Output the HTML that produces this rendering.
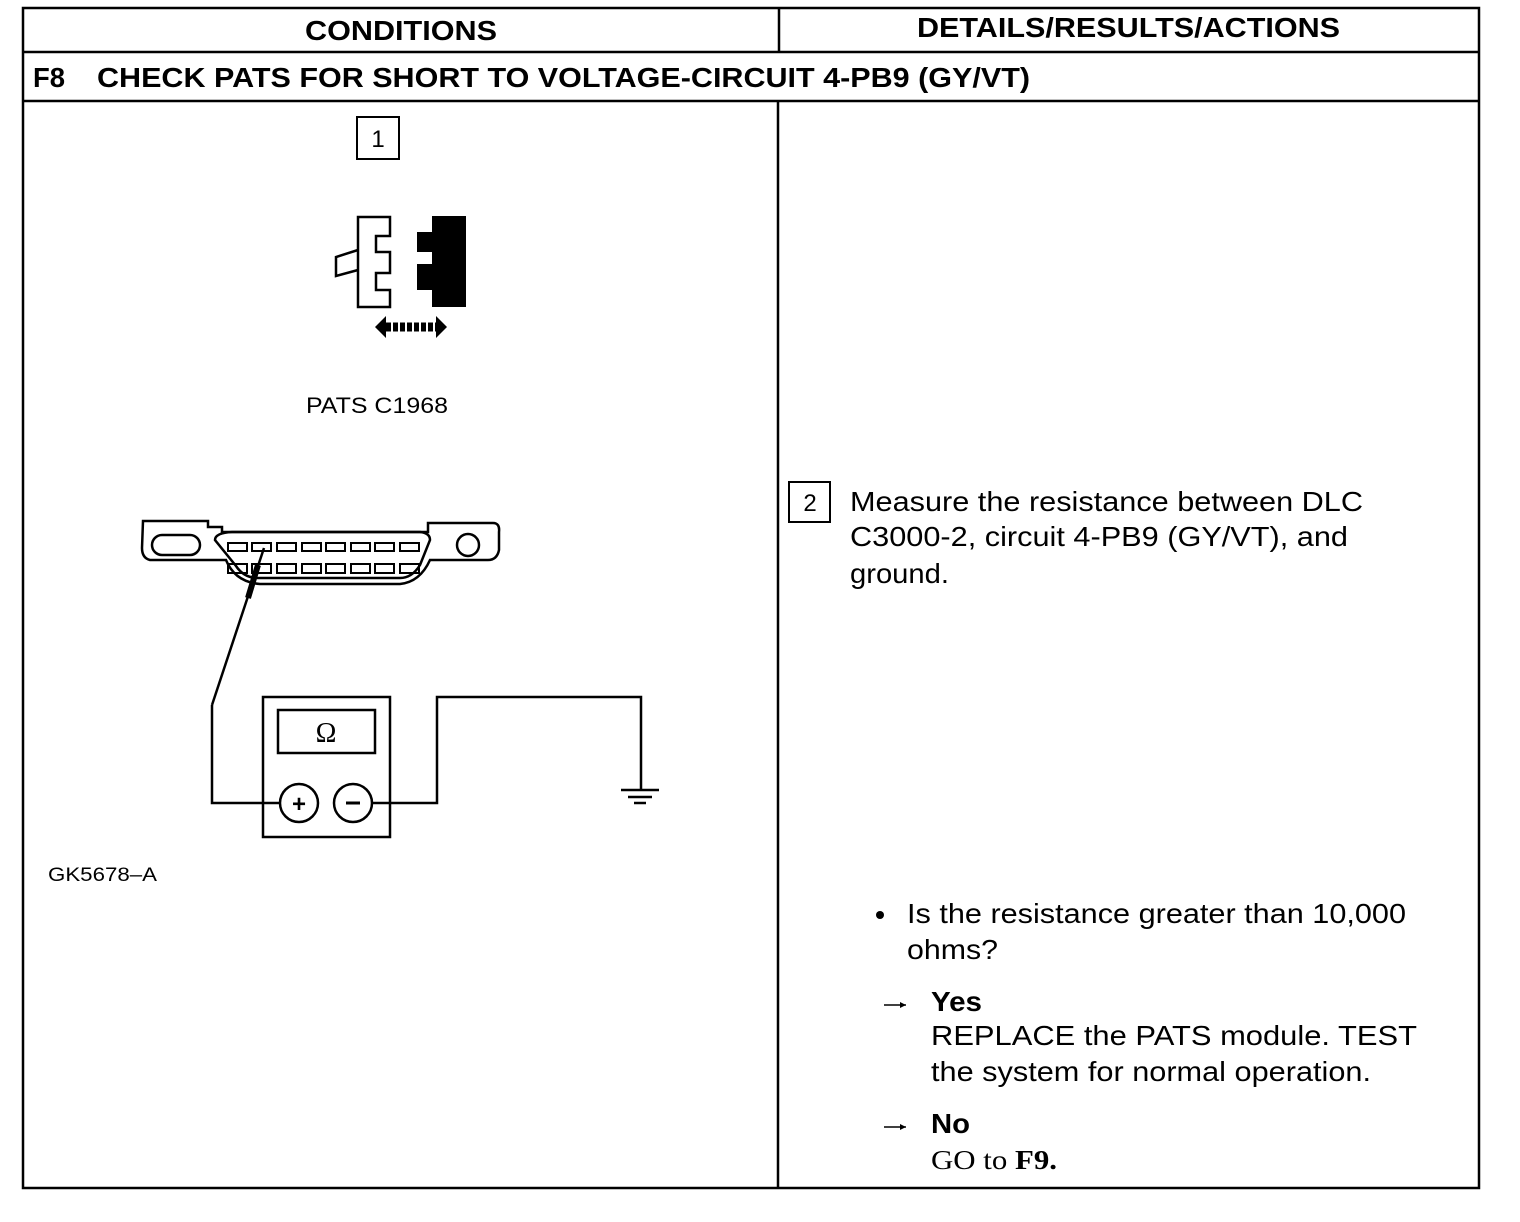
<!DOCTYPE html>
<html><head><style>
body{margin:0;background:#fff;width:1520px;height:1222px;overflow:hidden}
svg{display:block}
text{font-family:"Liberation Sans",Arial,sans-serif;fill:#000}
</style></head><body>
<svg width="1520" height="1222" viewBox="0 0 1520 1222" xmlns="http://www.w3.org/2000/svg">
<g stroke="#000" stroke-width="2.5" fill="none">
<rect x="23" y="8" width="1456" height="1180"/>
<line x1="23" y1="52" x2="1479" y2="52"/>
<line x1="23" y1="101" x2="1479" y2="101"/>
<line x1="779" y1="8" x2="779" y2="52"/>
<line x1="778" y1="101" x2="778" y2="1188"/>
</g>
<text x="305" y="40" font-size="28" font-weight="bold" textLength="192" lengthAdjust="spacingAndGlyphs">CONDITIONS</text>
<text x="917" y="37" font-size="28" font-weight="bold" textLength="423" lengthAdjust="spacingAndGlyphs">DETAILS/RESULTS/ACTIONS</text>
<text x="33" y="87" font-size="28" font-weight="bold" textLength="32" lengthAdjust="spacingAndGlyphs">F8</text>
<text x="97" y="87" font-size="28" font-weight="bold" textLength="933" lengthAdjust="spacingAndGlyphs">CHECK PATS FOR SHORT TO VOLTAGE-CIRCUIT 4-PB9 (GY/VT)</text>
<rect x="357" y="117" width="42" height="42" fill="none" stroke="#000" stroke-width="2"/>
<text x="378" y="147" font-size="24" text-anchor="middle">1</text>
<path d="M358 217 H390 V236 H376 V252 H390 V273 H376 V290 H390 V307 H358 Z" fill="#fff" stroke="#000" stroke-width="2.5"/>
<path d="M358 250 L336 257 V276 L358 270" fill="none" stroke="#000" stroke-width="2.5"/>
<path d="M432 216 H466 V307 H432 V290 H417 V264 H432 V252 H417 V232 H432 Z" fill="#000"/>
<path d="M375 327 L386 316 V338 Z M447 327 L436 316 V338 Z" fill="#000"/>
<line x1="386" y1="327" x2="436" y2="327" stroke="#000" stroke-width="9" stroke-dasharray="5 2"/>
<text x="306" y="413" font-size="22" textLength="142" lengthAdjust="spacingAndGlyphs">PATS C1968</text>
<g fill="none" stroke="#000" stroke-width="2.5">
<path d="M143 521 H208 V527 H222 V532 H428 V523 H493 Q500 523 499 532 V550 Q497 560 488 560 H443 L430 560 Q420 582 400 584 H260 Q235 582 226 560 H150 Q142 558 142 548 Z"/>
<path d="M215 540 Q215 533 232 532 H420 Q430 533 430 540 L420 565 Q412 578 400 578 H258 Q244 578 236 566 Z"/>
<rect x="152" y="535" width="48" height="20" rx="10"/>
<circle cx="468" cy="545" r="11"/>
</g>
<g fill="none" stroke="#000" stroke-width="2">
<rect x="228" y="543" width="19" height="8"/><rect x="252" y="543" width="19" height="8"/><rect x="277" y="543" width="19" height="8"/><rect x="302" y="543" width="19" height="8"/><rect x="326" y="543" width="19" height="8"/><rect x="351" y="543" width="19" height="8"/><rect x="375" y="543" width="19" height="8"/><rect x="400" y="543" width="19" height="8"/>
<rect x="228" y="564" width="19" height="9"/><rect x="252" y="564" width="19" height="9"/><rect x="277" y="564" width="19" height="9"/><rect x="302" y="564" width="19" height="9"/><rect x="326" y="564" width="19" height="9"/><rect x="351" y="564" width="19" height="9"/><rect x="375" y="564" width="19" height="9"/><rect x="400" y="564" width="19" height="9"/>
</g>
<line x1="264" y1="548" x2="212" y2="705" stroke="#000" stroke-width="2.5"/>
<line x1="258" y1="565" x2="248" y2="598" stroke="#000" stroke-width="6"/>
<g fill="none" stroke="#000" stroke-width="2.5">
<rect x="263" y="697" width="127" height="140"/>
<rect x="278" y="710" width="97" height="43"/>
<circle cx="299" cy="803" r="19"/>
<circle cx="353" cy="803" r="19"/>
<polyline points="212,705 212,803 280,803"/>
<polyline points="372,803 437,803 437,697 641,697 641,790"/>
<line x1="621" y1="790" x2="659" y2="790"/>
<line x1="628" y1="797" x2="652" y2="797"/>
<line x1="634" y1="803" x2="646" y2="803"/>
</g>
<text x="326" y="742" font-size="28" text-anchor="middle" style="font-family:'Liberation Serif',serif">Ω</text>
<text x="299" y="812" font-size="24" font-weight="bold" text-anchor="middle">+</text>
<line x1="346" y1="803" x2="360" y2="803" stroke="#000" stroke-width="3"/>
<text x="48" y="881" font-size="19" textLength="109" lengthAdjust="spacingAndGlyphs">GK5678–A</text>
<rect x="789" y="482" width="41" height="40" fill="none" stroke="#000" stroke-width="2"/>
<text x="810" y="511" font-size="24" text-anchor="middle">2</text>
<text x="850" y="511" font-size="28" textLength="513" lengthAdjust="spacingAndGlyphs">Measure the resistance between DLC</text>
<text x="850" y="546" font-size="28" textLength="498" lengthAdjust="spacingAndGlyphs">C3000-2, circuit 4-PB9 (GY/VT), and</text>
<text x="850" y="583" font-size="28" textLength="99" lengthAdjust="spacingAndGlyphs">ground.</text>
<circle cx="880" cy="915" r="4" fill="#000"/>
<text x="907" y="923" font-size="28" textLength="499" lengthAdjust="spacingAndGlyphs">Is the resistance greater than 10,000</text>
<text x="907" y="959" font-size="28" textLength="91" lengthAdjust="spacingAndGlyphs">ohms?</text>
<line x1="884" y1="1005" x2="906" y2="1005" stroke="#000" stroke-width="1.5"/>
<path d="M906 1005 L900 1002 V1008 Z" fill="#000"/>
<text x="931" y="1011" font-size="28" font-weight="bold" textLength="51" lengthAdjust="spacingAndGlyphs">Yes</text>
<text x="931" y="1045" font-size="28" textLength="486" lengthAdjust="spacingAndGlyphs">REPLACE the PATS module. TEST</text>
<text x="931" y="1081" font-size="28" textLength="440" lengthAdjust="spacingAndGlyphs">the system for normal operation.</text>
<line x1="884" y1="1127" x2="906" y2="1127" stroke="#000" stroke-width="1.5"/>
<path d="M906 1127 L900 1124 V1130 Z" fill="#000"/>
<text x="931" y="1133" font-size="28" font-weight="bold" textLength="39" lengthAdjust="spacingAndGlyphs">No</text>
<text x="931" y="1169" font-size="27" style="font-family:'Liberation Serif',serif" textLength="126" lengthAdjust="spacingAndGlyphs">GO to <tspan font-weight="bold">F9.</tspan></text>
</svg>
</body></html>
